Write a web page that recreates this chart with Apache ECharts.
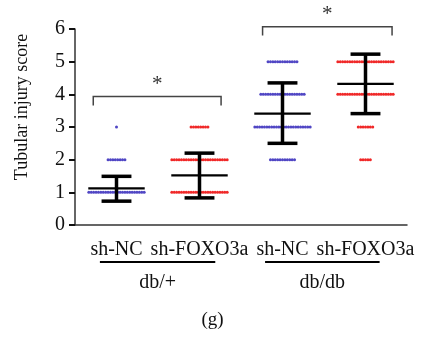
<!DOCTYPE html>
<html>
<head>
<meta charset="utf-8">
<script src="https://cdn.jsdelivr.net/npm/echarts@6/dist/echarts.min.js"></script>
<style>
  html, body { margin: 0; padding: 0; background: #fff; }
  #chart { width: 425px; height: 338px; }
</style>
</head>
<body>
<div id="chart"></div>
<script>
// categories
const groupNames = ['sh-NC', 'sh-FOXO3a', 'sh-NC', 'sh-FOXO3a']
const strainNames = ['db/+', 'db/db']
const yTicks = [0, 1, 2, 3, 4, 5, 6]

// number of animals at each score (scores 1..5)
const scores = [1, 2, 3, 4, 5]
const ncDbPlus = [24, 8, 1, 0, 0]
const foxoDbPlus = [24, 24, 8, 0, 0]
const ncDbDb = [0, 11, 24, 19, 13]
const foxoDbDb = [0, 5, 7, 24, 24]

// mean and +/- SD bars
const means = [1.12, 1.52, 3.41, 4.32]
const sdLow = [0.73, 0.83, 2.5, 3.41]
const sdHigh = [1.49, 2.2, 4.35, 5.23]

// significance brackets: [from, to, top, foot]
const brackets = [
  [0.22, 1.76, 3.93, 3.66],
  [2.26, 3.82, 6.07, 5.8],
]
// strain underlines: [from, to]
const strainSpans = [
  [0.3, 1.69],
  [2.29, 3.67],
]

const blue = '#5046c4'
const red = '#f02828'
const serif = 'Liberation Serif'

const chart = echarts.init(document.getElementById('chart'))

// spread dots of one score sideways, like a beeswarm
function swarm(counts, center) {
  const pts = []
  const step = 0.029
  counts.forEach((n, i) => {
    for (let k = 0; k < n; k++) {
      pts.push([center + (k - (n - 1) / 2) * step, scores[i]])
    }
  })
  return pts
}

const dotSeries = [ncDbPlus, foxoDbPlus, ncDbDb, foxoDbDb].map((counts, i) => ({
  type: 'scatter',
  xAxisIndex: 1,
  symbolSize: 3,
  itemStyle: { color: i % 2 === 0 ? blue : red, opacity: 1 },
  data: swarm(counts, i + 0.5),
  silent: true,
}))

const barSeries = {
  type: 'custom',
  xAxisIndex: 1,
  z: 5,
  data: means.map((m, i) => [i + 0.5, m, sdLow[i], sdHigh[i]]),
  renderItem(params, api) {
    const x = api.value(0)
    const c = api.coord([x, api.value(1)])
    const lo = api.coord([x, api.value(2)])
    const hi = api.coord([x, api.value(3)])
    const unit = api.size([1, 0])[0]
    const capW = unit * 0.18
    const meanW = unit * 0.34
    const thick = { stroke: '#000', lineWidth: 3.5 }
    return {
      type: 'group',
      children: [
        { type: 'line', shape: { x1: hi[0], y1: hi[1], x2: lo[0], y2: lo[1] }, style: thick },
        { type: 'line', shape: { x1: hi[0] - capW, y1: hi[1], x2: hi[0] + capW, y2: hi[1] }, style: thick },
        { type: 'line', shape: { x1: lo[0] - capW, y1: lo[1], x2: lo[0] + capW, y2: lo[1] }, style: thick },
        { type: 'line', shape: { x1: c[0] - meanW, y1: c[1], x2: c[0] + meanW, y2: c[1] }, style: { stroke: '#000', lineWidth: 2.2 } },
      ],
    }
  },
}

const bracketSeries = {
  type: 'custom',
  xAxisIndex: 1,
  clip: false,
  data: brackets,
  renderItem(params, api) {
    const a = api.coord([api.value(0), api.value(2)])
    const b = api.coord([api.value(1), api.value(2)])
    const foot = api.coord([api.value(0), api.value(3)])[1]
    return {
      type: 'group',
      children: [
        {
          type: 'polyline',
          shape: { points: [[a[0], foot], a, b, [b[0], foot]] },
          style: { stroke: '#444', lineWidth: 1.5, fill: null },
        },
        {
          type: 'text',
          style: {
            text: '*', x: (a[0] + b[0]) / 2, y: a[1] - 12,
            align: 'center', verticalAlign: 'middle',
            font: '21px "' + serif + '"', fill: '#333',
          },
        },
      ],
    }
  },
}

const strainSeries = {
  type: 'custom',
  xAxisIndex: 1,
  clip: false,
  data: strainSpans,
  renderItem(params, api) {
    const a = api.coord([api.value(0), 0])
    const b = api.coord([api.value(1), 0])
    return {
      type: 'group',
      children: [
        { type: 'line', shape: { x1: a[0], y1: a[1] + 37, x2: b[0], y2: a[1] + 37 }, style: { stroke: '#000', lineWidth: 2 } },
        {
          type: 'text',
          style: {
            text: strainNames[params.dataIndex], x: (a[0] + b[0]) / 2, y: a[1] + 58,
            align: 'center', verticalAlign: 'middle',
            font: '20px "' + serif + '"', fill: '#111',
          },
        },
      ],
    }
  },
}

chart.setOption({
  animation: false,
  grid: { left: 75, right: 18, top: 29, bottom: 113 },
  xAxis: [
    {
      type: 'category',
      data: groupNames,
      boundaryGap: true,
      axisLine: { lineStyle: { color: '#333', width: 1.5 } },
      axisTick: { alignWithLabel: true, length: 7, lineStyle: { color: '#111', width: 2 } },
      axisLabel: { color: '#111', fontFamily: serif, fontSize: 20, margin: 15, interval: 0 },
    },
    { type: 'value', min: 0, max: 4, show: false },
  ],
  yAxis: {
    type: 'value',
    min: yTicks[0],
    max: yTicks[yTicks.length - 1],
    interval: 1,
    splitLine: { show: false },
    axisLine: { show: true, lineStyle: { color: '#333', width: 1.5 } },
    axisTick: { show: true, length: 6, lineStyle: { color: '#111', width: 2 } },
    axisLabel: { color: '#111', fontFamily: serif, fontSize: 20, margin: 10 },
  },
  graphic: [
    {
      type: 'text',
      x: 22,
      y: 107,
      rotation: Math.PI / 2,
      style: {
        text: 'Tubular injury score', align: 'center', verticalAlign: 'middle',
        font: '18px "' + serif + '"', fill: '#111',
      },
    },
    {
      type: 'text',
      left: 'center',
      top: 311,
      style: { text: '(g)', font: '19px "' + serif + '"', fill: '#111' },
    },
  ],
  series: [...dotSeries, barSeries, bracketSeries, strainSeries],
})
</script>
</body>
</html>
